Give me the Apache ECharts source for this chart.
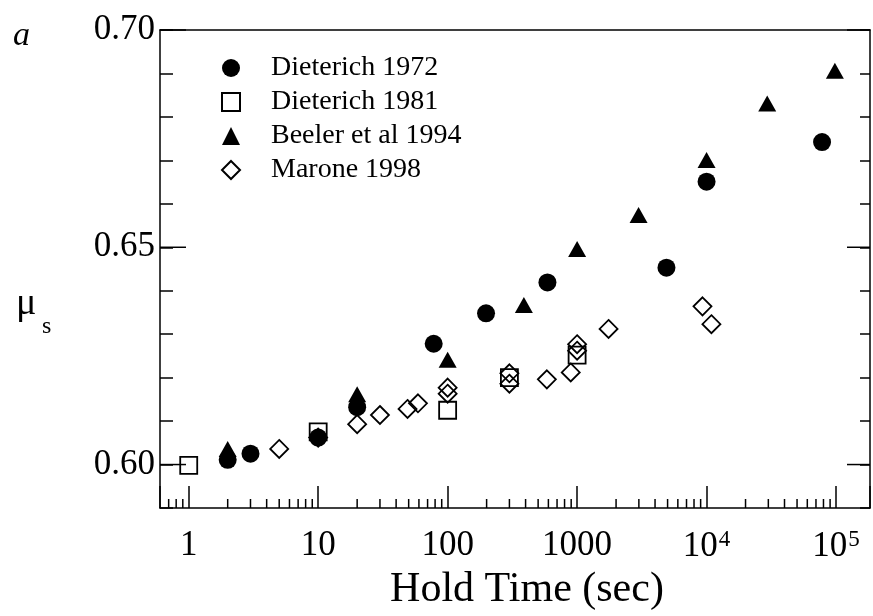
<!DOCTYPE html>
<html>
<head>
<meta charset="utf-8">
<script src="https://cdn.jsdelivr.net/npm/echarts@6/dist/echarts.min.js"></script>
<style>
html,body{margin:0;padding:0;background:#fff;overflow:hidden;width:873px;height:616px;}
#chart{width:873px;height:616px;overflow:hidden;}
</style>
</head>
<body>
<div id="chart"></div>
<script>
// ---- data ----
const seriesNames = ['Dieterich 1972', 'Dieterich 1981', 'Beeler et al 1994', 'Marone 1998'];

const dieterich1972Time = [2, 3, 10, 20, 78, 198, 590, 4900, 10000, 78000];
const dieterich1972Mu   = [0.6011, 0.6025, 0.6062, 0.6132, 0.6278, 0.6348, 0.6419, 0.6453, 0.6651, 0.6742];

const dieterich1981Time = [1, 10, 100, 300, 1000];
const dieterich1981Mu   = [0.5998, 0.6075, 0.6125, 0.6200, 0.6252];

const beelerTime = [2, 20, 100, 388, 1000, 2985, 10000, 29400, 98000];
const beelerMu   = [0.6036, 0.6162, 0.6241, 0.6367, 0.6496, 0.6574, 0.6701, 0.6831, 0.6906];

const maroneTime = [5, 10, 20, 30, 49, 59, 100, 100, 300, 300, 584, 893, 1000, 1000, 1750, 9300, 10900];
const maroneMu   = [0.6036, 0.6062, 0.6093, 0.6114, 0.6128, 0.6141, 0.6177, 0.6163, 0.6210, 0.6186, 0.6196, 0.6212, 0.6277, 0.6262, 0.6312, 0.6364, 0.6323];

// axis extents and ticks
const X_MIN = 0.6, X_MAX = 183000;
const Y_MIN = 0.59, Y_MAX = 0.70;
const xMajorTickLabels = {1: '1', 10: '10', 100: '100', 1000: '1000', 10000: '10{sup|4}', 100000: '10{sup|5}'};
const xMinorTicks = [0.7, 0.8, 0.9,
  2, 3, 4, 5, 6, 7, 8, 9,
  20, 30, 40, 50, 60, 70, 80, 90,
  200, 300, 400, 500, 600, 700, 800, 900,
  2000, 3000, 4000, 5000, 6000, 7000, 8000, 9000,
  20000, 30000, 40000, 50000, 60000, 70000, 80000, 90000];
const yMajorTicks = [0.60, 0.65, 0.70];
const yLabelTicks = ['0.60', '0.65', '0.70'];

const FONT = '"Liberation Serif", "Times New Roman", serif';

function pairs(xs, ys) { return xs.map((x, i) => [x, ys[i]]); }

const chart = echarts.init(document.getElementById('chart'), null, {renderer: 'canvas', width: 873, height: 616});

function xMinorRender(params, api) {
  const p = api.coord([api.value(0), Y_MIN]);
  return {type: 'line', shape: {x1: p[0], y1: p[1], x2: p[0], y2: p[1] - 9},
          style: {stroke: '#000', lineWidth: 1.5}};
}
function yMajorRender(params, api) {
  const pl = api.coord([X_MIN, api.value(1)]);
  const pr = api.coord([X_MAX, api.value(1)]);
  return {type: 'group', children: [
    {type: 'line', shape: {x1: pl[0], y1: pl[1], x2: pl[0] + 26, y2: pl[1]}, style: {stroke: '#000', lineWidth: 1.5}},
    {type: 'line', shape: {x1: pr[0], y1: pr[1], x2: pr[0] - 23, y2: pr[1]}, style: {stroke: '#000', lineWidth: 1.5}}
  ]};
}

const openStyle = {color: 'rgba(0,0,0,0)', borderColor: '#000', borderWidth: 1.8, opacity: 1};
const filledStyle = {color: '#000', opacity: 1};

const option = {
  backgroundColor: '#fff',
  animation: false,
  textStyle: {fontFamily: FONT, color: '#000'},
  grid: {left: 160, right: 1, top: 30, bottom: 103, containLabel: false},
  legend: {
    data: seriesNames,
    orient: 'vertical',
    left: 216,
    top: 49,
    itemWidth: 18,
    itemHeight: 18,
    itemGap: 6,
    textStyle: {fontFamily: FONT, fontSize: 28, color: '#000', padding: [0, 0, 0, 26]}
  },
  xAxis: [{
    type: 'log', logBase: 10, min: X_MIN, max: X_MAX,
    name: 'Hold Time (sec)', nameLocation: 'middle', nameGap: 61,
    nameTextStyle: {fontFamily: FONT, fontSize: 42, color: '#000', padding: [0, 0, 0, 24]},
    axisLine: {show: true, onZero: false, lineStyle: {color: '#000', width: 1.5}},
    axisTick: {show: true, inside: true, length: 22, lineStyle: {color: '#000', width: 1.5}},
    axisLabel: {
      show: true, interval: 0, hideOverlap: false, margin: 20,
      fontFamily: FONT, fontSize: 35, color: '#000',
      formatter: function (v) {
        const e = Math.log10(v);
        const r = Math.round(e);
        if (Math.abs(e - r) < 1e-6) { return xMajorTickLabels[Math.pow(10, r)] || ''; }
        return '';
      },
      rich: {sup: {fontFamily: FONT, fontSize: 23, verticalAlign: 'top', color: '#000', padding: [0, 0, 14, 1]}}
    },
    splitLine: {show: false}
  }, {
    type: 'log', logBase: 10, min: X_MIN, max: X_MAX, position: 'top',
    axisLine: {show: true, onZero: false, lineStyle: {color: '#000', width: 1.5}},
    axisTick: {show: false}, axisLabel: {show: false}, splitLine: {show: false}
  }],
  yAxis: [{
    type: 'value', min: Y_MIN, max: Y_MAX, interval: 0.01,
    axisLine: {show: true, onZero: false, lineStyle: {color: '#000', width: 1.5}},
    axisTick: {show: true, inside: true, length: 13, lineStyle: {color: '#000', width: 1.5}},
    axisLabel: {
      show: true, margin: 5, fontFamily: FONT, fontSize: 35, color: '#000',
      formatter: function (v) {
        const s = v.toFixed(2);
        return yLabelTicks.indexOf(s) >= 0 ? s : '';
      }
    },
    splitLine: {show: false}
  }, {
    type: 'value', min: Y_MIN, max: Y_MAX, interval: 0.01, position: 'right',
    axisLine: {show: true, onZero: false, lineStyle: {color: '#000', width: 1.5}},
    axisTick: {show: true, inside: true, length: 10, lineStyle: {color: '#000', width: 1.5}},
    axisLabel: {show: false}, splitLine: {show: false}
  }],
  graphic: [
    {type: 'text', left: 13, top: 19, style: {text: 'a', font: 'italic 34px ' + FONT, fill: '#000'}},
    {type: 'text', left: 16, top: 285, style: {text: 'μ', font: '38px ' + FONT, fill: '#000'}},
    {type: 'text', left: 42, top: 315, style: {text: 's', font: '24px ' + FONT, fill: '#000'}}
  ],
  series: [
    {name: 'xMinorTicks', type: 'custom', renderItem: xMinorRender, silent: true, clip: false,
     data: xMinorTicks.map(v => [v, Y_MIN]), z: 1},
    {name: 'yMajorTicks', type: 'custom', renderItem: yMajorRender, silent: true, clip: false,
     data: yMajorTicks.map(v => [1, v]), z: 1},
    {name: seriesNames[0], type: 'scatter', symbol: 'circle', symbolSize: 18,
     itemStyle: filledStyle, data: pairs(dieterich1972Time, dieterich1972Mu), z: 3},
    {name: seriesNames[1], type: 'scatter', symbol: 'rect', symbolSize: 17,
     itemStyle: openStyle, data: pairs(dieterich1981Time, dieterich1981Mu), z: 4},
    {name: seriesNames[2], type: 'scatter', symbol: 'triangle', symbolSize: [18, 16],
     itemStyle: filledStyle, data: pairs(beelerTime, beelerMu), z: 3},
    {name: seriesNames[3], type: 'scatter', symbol: 'diamond', symbolSize: 18,
     itemStyle: openStyle, data: pairs(maroneTime, maroneMu), z: 5}
  ]
};
chart.setOption(option);
</script>
</body>
</html>
